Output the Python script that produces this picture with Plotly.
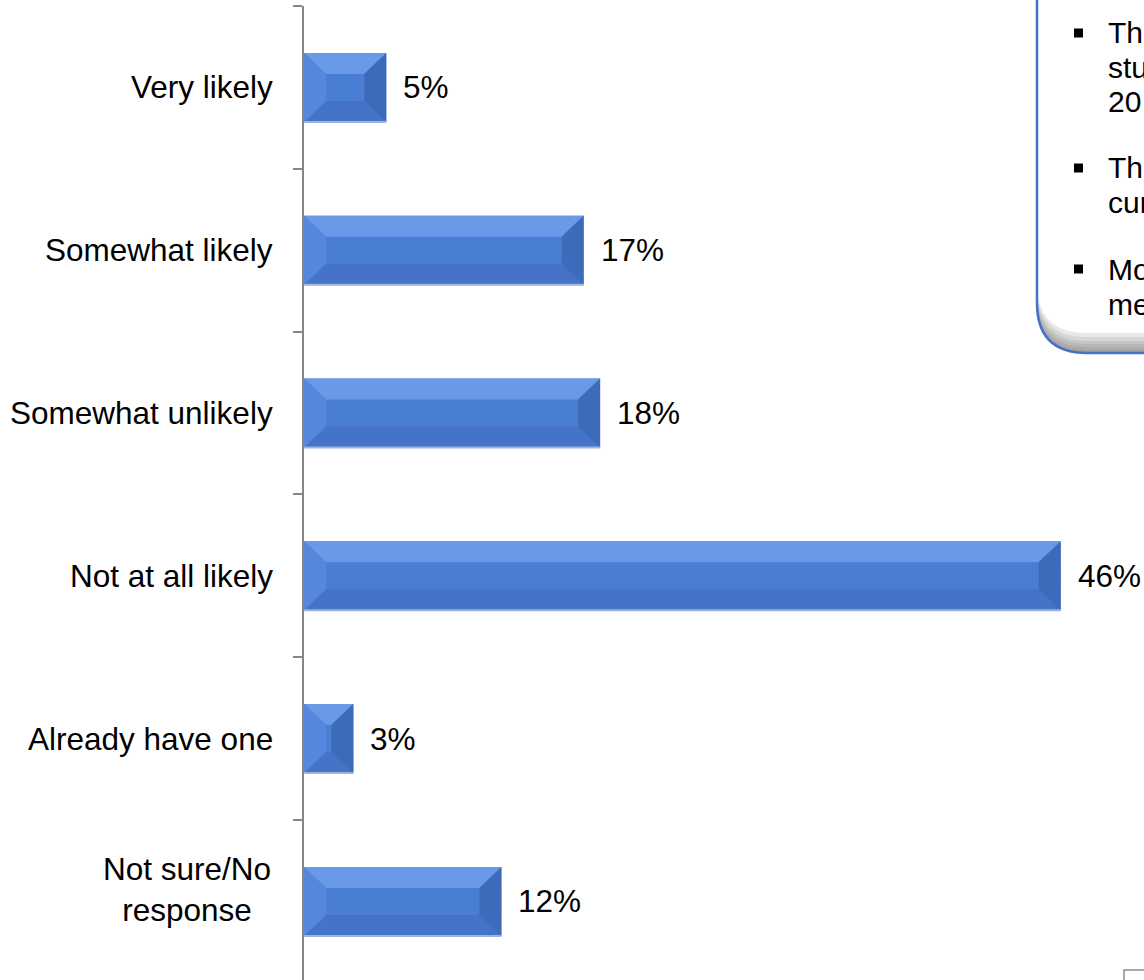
import plotly.graph_objects as go

# Survey responses (percent of respondents)
categories = ["Very likely", "Somewhat likely", "Somewhat unlikely",
              "Not at all likely", "Already have one", "Not sure/No<br>response"]
values = [5, 17, 18, 46, 3, 12]

# Callout bullet text (runs off the right edge of the canvas)
note_lines = [["Th", "stu", "20"], ["Th", "cur"], ["Mo", "me"]]

W, H = 1144, 980
ML, MT = 304, 6
PW, PH = W - ML, H - MT
PX_PER_UNIT = 16.45          # horizontal scale, pixels per percentage point
BAND_PX = 162.8              # height of one category band in pixels
X_MAX = PW / PX_PER_UNIT
Y_BOTTOM = -0.5 + PH / BAND_PX

FONT = "Liberation Sans, Arial, sans-serif"
AXIS_GREY = "#868686"

FACE = "#4A7DD4"
TOP = "#6A99E8"
LEFT = "#5687DC"
RIGHT = "#3E6BB9"
BOTTOM = "#4473C7"

pos = list(range(len(categories)))
half = 0.212

fig = go.Figure()
fig.add_trace(go.Bar(
    x=values, y=pos, orientation="h", width=2 * half,
    marker=dict(color=FACE, line=dict(width=0)),
    hoverinfo="skip", showlegend=False,
))

shapes = []
bev_x = 22 / PX_PER_UNIT
bev_y = 21 / BAND_PX


def poly(points, color):
    d = "M " + " L ".join(f"{x},{y}" for x, y in points) + " Z"
    return dict(type="path", xref="x", yref="y", path=d, fillcolor=color,
                line=dict(width=0), layer="above")


# bevel facets drawn over each bar
for i, v in zip(pos, values):
    dx = min(bev_x, v / 2 * 0.95)
    yt, yb = i - half, i + half
    it, ib = yt + bev_y, yb - bev_y
    x0, x1 = dx, v - dx
    shapes.append(poly([(0, yt), (v, yt), (x1, it), (x0, it)], TOP))
    shapes.append(poly([(0, yb), (v, yb), (x1, ib), (x0, ib)], BOTTOM))
    shapes.append(poly([(0, yt), (x0, it), (x0, ib), (0, yb)], LEFT))
    shapes.append(poly([(v, yt), (x1, it), (x1, ib), (v, yb)], RIGHT))
    shapes.append(dict(type="line", xref="x", yref="y", x0=0, x1=v, y0=yb, y1=yb,
                       line=dict(color="#9DB3DC", width=2), layer="above"))


def px(xp):
    return (xp - ML) / PW


def py(yp):
    return (H - yp) / PH - (H - MT - PH) / PH


# Callout box with rounded lower-left corner
bx, bb, r = 1037, 353, 50
xr, ytop = 1170, -20
box = (f"M {px(bx)},{py(ytop)} L {px(bx)},{py(bb - r)} "
       f"Q {px(bx)},{py(bb)} {px(bx + r)},{py(bb)} "
       f"L {px(xr)},{py(bb)} L {px(xr)},{py(ytop)} Z")
shapes.append(dict(type="path", xref="paper", yref="paper", path=box,
                   fillcolor="white", line=dict(width=0), layer="above"))
for d in [20, 16, 12, 9, 6, 3]:
    band = (f"M {px(bx)},{py(bb - r - d)} L {px(bx)},{py(bb - r)} "
            f"Q {px(bx)},{py(bb)} {px(bx + r)},{py(bb)} "
            f"L {px(xr)},{py(bb)} L {px(xr)},{py(bb - d)} "
            f"L {px(bx + r)},{py(bb - d)} "
            f"Q {px(bx)},{py(bb - d)} {px(bx)},{py(bb - r - d)} Z")
    shapes.append(dict(type="path", xref="paper", yref="paper", path=band,
                       fillcolor="rgba(110,110,110,0.15)", line=dict(width=0),
                       layer="above"))
border = (f"M {px(bx)},{py(ytop)} L {px(bx)},{py(bb - r)} "
          f"Q {px(bx)},{py(bb)} {px(bx + r)},{py(bb)} L {px(xr)},{py(bb)}")
shapes.append(dict(type="path", xref="paper", yref="paper", path=border,
                   line=dict(color="#4472C4", width=2.5), layer="above"))

# corner of a frame at the lower right
shapes.append(dict(type="path", xref="paper", yref="paper",
                   path=f"M {px(1124)},{py(995)} L {px(1124)},{py(970)} L {px(1170)},{py(970)}",
                   line=dict(color="#8C8C8C", width=1.5), layer="above"))

annotations = []
# category labels
for i, c in zip(pos, categories):
    two = "<br>" in c
    annotations.append(dict(
        x=0, y=i, xref="x", yref="y", text=c, showarrow=False,
        xanchor="right", yanchor="middle", align="center",
        xshift=-31 if two else -29, yshift=12 if two else 0,
        font=dict(family=FONT, size=31.5, color="black"),
    ))
# value labels
for i, v in zip(pos, values):
    annotations.append(dict(
        x=v, y=i, xref="x", yref="y", text=f"{v}%", showarrow=False,
        xanchor="left", yanchor="middle", xshift=15,
        font=dict(family=FONT, size=31.5, color="black"),
    ))

# callout text
line_y = [[33, 67, 101], [168, 203], [269, 304]]
for para, ys in zip(note_lines, line_y):
    shapes.append(dict(type="rect", xref="paper", yref="paper",
                       x0=px(1074), x1=px(1083), y0=py(ys[0] - 4.5), y1=py(ys[0] + 4.5),
                       fillcolor="black", line=dict(width=0), layer="above"))
    for t, yy in zip(para, ys):
        annotations.append(dict(
            x=px(1106), y=py(yy), xref="paper", yref="paper", text=t,
            showarrow=False, xanchor="left", yanchor="middle",
            font=dict(family=FONT, size=30, color="black"),
        ))

fig.update_layout(
    width=W, height=H,
    margin=dict(l=ML, r=0, t=MT, b=H - MT - PH, pad=0),
    paper_bgcolor="white", plot_bgcolor="white",
    showlegend=False,
    xaxis=dict(range=[0, X_MAX], visible=False, fixedrange=True),
    yaxis=dict(
        range=[Y_BOTTOM, -0.5],
        tickvals=[k - 0.5 for k in range(len(categories) + 1)],
        ticktext=[""] * (len(categories) + 1),
        ticks="outside", ticklen=9, tickwidth=2, tickcolor=AXIS_GREY,
        showline=True, linecolor=AXIS_GREY, linewidth=2,
        showgrid=False, zeroline=False, fixedrange=True,
    ),
    shapes=shapes,
    annotations=annotations,
)

fig.write_html("out.html", include_plotlyjs=True, config={"displayModeBar": False})
